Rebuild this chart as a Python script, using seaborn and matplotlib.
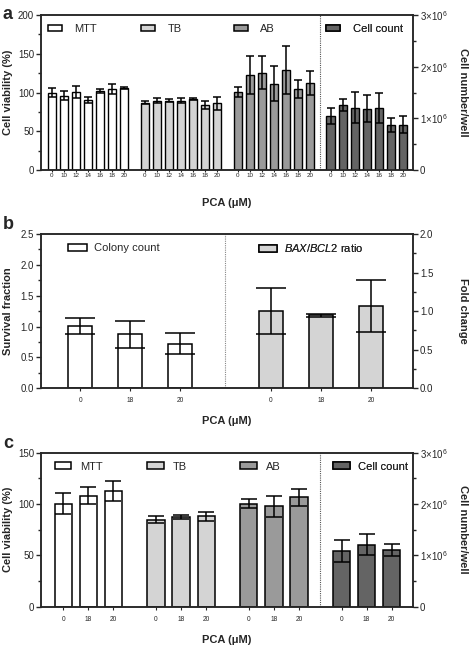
import numpy as np
import pandas as pd
import matplotlib
matplotlib.use("Agg")
import matplotlib.pyplot as plt
import matplotlib.transforms as mtransforms
from matplotlib.patches import Patch
from matplotlib.ticker import MultipleLocator, FuncFormatter
import seaborn as sns

# ---------------- data ----------------
conc_a = ["0", "10", "12", "14", "16", "18", "20"]
mtt_a = [100, 96, 101, 90, 102, 105, 105.5]
mtt_a_err = [5.5, 5.5, 8, 4, 2.5, 6.5, 1.5]
tb_a = [87, 89.5, 89.5, 89.5, 91.5, 84, 86]
tb_a_err = [1.8, 3, 2.2, 3.4, 1.3, 5.6, 8]
ab_a = [100.5, 122, 125.5, 111.5, 129, 104.5, 112.5]
ab_a_err = [6.2, 24.5, 21, 22.6, 31, 11.4, 15.7]
cells_a = [1.05e6, 1.26e6, 1.21e6, 1.19e6, 1.20e6, 0.87e6, 0.88e6]
cells_a_err = [0.16e6, 0.12e6, 0.30e6, 0.27e6, 0.29e6, 0.14e6, 0.17e6]

conc_b = ["0", "18", "20"]
colony_b = [1.01, 0.875, 0.72]
colony_b_err = [0.13, 0.22, 0.17]
bax_b = [1.0, 0.945, 1.065]
bax_b_err = [0.30, 0.02, 0.34]

conc_c = ["0", "18", "20"]
mtt_c = [100.3, 108, 112.7]
mtt_c_err = [10.2, 8.3, 9.9]
tb_c = [84.7, 87.7, 88]
tb_c_err = [3.4, 2, 4.2]
ab_c = [100.3, 97.7, 106.5]
ab_c_err = [4.4, 10, 8.3]
cells_c = [1.08e6, 1.21e6, 1.11e6]
cells_c_err = [0.21e6, 0.20e6, 0.12e6]

labels_4 = ["MTT", "TB", "AB", "Cell count"]
labels_b = ["Colony count", r"$\mathit{BAX/BCL2}$ ratio"]
colors = {"MTT": "#ffffff", "TB": "#d4d4d4", "AB": "#9a9a9a", "Cell count": "#646464",
          "Colony count": "#ffffff", r"$\mathit{BAX/BCL2}$ ratio": "#d4d4d4"}

# ---------------- style ----------------
sns.set_style("ticks")
plt.rcParams["font.family"] = ["Liberation Sans", "DejaVu Sans"]
plt.rcParams["mathtext.fontset"] = "custom"
plt.rcParams["mathtext.rm"] = "Liberation Sans"
plt.rcParams["mathtext.it"] = "Liberation Sans:italic"
plt.rcParams["mathtext.bf"] = "Liberation Sans:bold"
plt.rcParams["axes.linewidth"] = 1.1

fig = plt.figure(figsize=(4.7, 6.45), dpi=100)


def sci_fmt(v, p):
    if abs(v) < 1:
        return "0"
    return "%d×10$^6$" % round(v / 1e6)


def build(series, conc, gap):
    n = len(conc)
    rows = []
    for g, (lab, vals, errs) in enumerate(series):
        for i, (v, e) in enumerate(zip(vals, errs)):
            rows.append({"pos": g * (n + gap) + i, "value": v, "err": e,
                         "group": lab, "conc": conc[i]})
    return pd.DataFrame(rows)


def draw_bars(ax, df, width, cap, lw):
    sns.barplot(data=df, x="pos", y="value", hue="group", palette=colors,
                native_scale=True, dodge=False, width=width, edgecolor="black",
                linewidth=lw, legend=False, ax=ax, zorder=2)
    ax.errorbar(df["pos"], df["value"], yerr=df["err"], fmt="none", ecolor="black",
                elinewidth=1.1, capsize=cap, capthick=1.1, zorder=3)


def add_legend(ax, lab, xdata, yfrac, hl, hh, pad, fs):
    trans = mtransforms.blended_transform_factory(ax.transData, ax.transAxes)
    h = [Patch(facecolor=colors[lab], edgecolor="black", linewidth=1.1)]
    leg = ax.legend(h, [lab], loc="center left", bbox_to_anchor=(xdata, yfrac),
                    bbox_transform=trans, frameon=False, borderpad=0, borderaxespad=0,
                    handlelength=hl, handleheight=hh, handletextpad=pad, fontsize=fs)
    ax.add_artist(leg)


def style_axes(ax, ax2, xlabel_y, xtick_fs, xtick_len, xtick_pad):
    ax.tick_params(axis="y", which="major", length=3.5, width=1, labelsize=7, pad=1.5)
    ax.tick_params(axis="y", which="minor", length=2, width=1)
    ax2.tick_params(axis="y", which="major", length=3.5, width=1, labelsize=7, pad=1.5)
    ax2.tick_params(axis="y", which="minor", length=2, width=1)
    ax.tick_params(axis="x", which="major", length=xtick_len, width=0.8,
                   labelsize=xtick_fs, pad=xtick_pad)
    ax.tick_params(axis="x", which="minor", length=0)
    for a in (ax, ax2):
        for s in a.spines.values():
            s.set_visible(True)
            s.set_linewidth(1.1)
    ax.set_xlabel("PCA (μM)", fontsize=8, fontweight="bold", va="center")
    ax.xaxis.set_label_coords(0.5, xlabel_y)


def ylabels(ax, ax2, left, right):
    ax.set_ylabel(left, fontsize=8, fontweight="bold", rotation=90, va="center",
                  ha="center", rotation_mode="anchor")
    ax.yaxis.set_label_coords(-0.089, 0.5)
    ax2.set_ylabel(right, fontsize=8, fontweight="bold", rotation=270, va="center",
                   ha="center", rotation_mode="anchor")
    ax2.yaxis.set_label_coords(1.134, 0.5)


# ================= panel a =================
W = 0.7915
axa = fig.add_axes([0.0872, 0.7364, W, 0.2403])
axa2 = axa.twinx()
dfa = build([("MTT", mtt_a, mtt_a_err), ("TB", tb_a, tb_a_err), ("AB", ab_a, ab_a_err),
             ("Cell count", cells_a, cells_a_err)], conc_a, 0.7)
draw_bars(axa, dfa[dfa.group != "Cell count"], 0.67, 2.6, 1.0)
draw_bars(axa2, dfa[dfa.group == "Cell count"], 0.67, 2.6, 1.0)
axa.set_ylim(0, 200)
axa.yaxis.set_major_locator(MultipleLocator(50))
axa.yaxis.set_minor_locator(MultipleLocator(25))
axa2.set_ylim(0, 3e6)
axa2.yaxis.set_major_locator(MultipleLocator(1e6))
axa2.yaxis.set_minor_locator(MultipleLocator(0.5e6))
axa2.yaxis.set_major_formatter(FuncFormatter(sci_fmt))
axa.set_xlim(dfa.pos.min() - 0.88, dfa.pos.max() + 0.83)
axa.set_xticks(dfa.pos)
axa.set_xticklabels(dfa.conc)
g2_last = dfa[dfa.group == "AB"].pos.max()
g3_first = dfa[dfa.group == "Cell count"].pos.min()
axa.axvline((g2_last + g3_first) / 2, color="#555555", ls=(0, (1, 1)), lw=0.8, zorder=1)
style_axes(axa, axa2, -0.213, 4.5, 1.5, 1.0)
ylabels(axa, axa2, "Cell viability (%)", "Cell number/well")
for lab in labels_4:
    x0 = dfa[dfa.group == lab].pos.min() - 0.67 / 2
    add_legend(axa2, lab, x0, 0.91, 1.26, 0.55, 1.15, 8)

# ================= panel b =================
axb = fig.add_axes([0.0872, 0.398, W, 0.2392])
axb2 = axb.twinx()
dfb = build([("Colony count", colony_b, colony_b_err),
             (labels_b[1], bax_b, bax_b_err)], conc_b, 0.8)
draw_bars(axb, dfb[dfb.group == "Colony count"], 0.48, 11, 1.1)
draw_bars(axb2, dfb[dfb.group != "Colony count"], 0.48, 11, 1.1)
axb.set_ylim(0, 2.5)
axb.yaxis.set_major_locator(MultipleLocator(0.5))
axb.yaxis.set_minor_locator(MultipleLocator(0.25))
axb.yaxis.set_major_formatter(FuncFormatter(lambda v, p: "%.1f" % v))
axb2.set_ylim(0, 2.0)
axb2.yaxis.set_major_locator(MultipleLocator(0.5))
axb2.yaxis.set_minor_locator(MultipleLocator(0.25))
axb2.yaxis.set_major_formatter(FuncFormatter(lambda v, p: "%.1f" % v))
axb.set_xlim(dfb.pos.min() - 0.78, dfb.pos.max() + 0.84)
axb.set_xticks(dfb.pos)
axb.set_xticklabels(dfb.conc)
b_last = dfb[dfb.group == "Colony count"].pos.max()
b_first = dfb[dfb.group != "Colony count"].pos.min()
axb.axvline((b_last + b_first) / 2, color="#888888", ls=(0, (1, 1)), lw=0.8, zorder=1)
style_axes(axb, axb2, -0.21, 4.8, 2.5, 4.0)
ylabels(axb, axb2, "Survival fraction", "Fold change")
for lab, hl, pad in [("Colony count", 1.7, 0.63), (labels_b[1], 1.7, 0.63)]:
    x0 = dfb[dfb.group == lab].pos.min() - 0.48 / 2
    add_legend(axb2, lab, x0, 0.907, hl, 0.55, pad, 8)

# ================= panel c =================
axc = fig.add_axes([0.0872, 0.0594, W, 0.2388])
axc2 = axc.twinx()
dfc = build([("MTT", mtt_c, mtt_c_err), ("TB", tb_c, tb_c_err), ("AB", ab_c, ab_c_err),
             ("Cell count", cells_c, cells_c_err)], conc_c, 0.7)
draw_bars(axc, dfc[dfc.group != "Cell count"], 0.69, 5.5, 1.1)
draw_bars(axc2, dfc[dfc.group == "Cell count"], 0.69, 5.5, 1.1)
axc.set_ylim(0, 150)
axc.yaxis.set_major_locator(MultipleLocator(50))
axc.yaxis.set_minor_locator(MultipleLocator(25))
axc2.set_ylim(0, 3e6)
axc2.yaxis.set_major_locator(MultipleLocator(1e6))
axc2.yaxis.set_minor_locator(MultipleLocator(0.5e6))
axc2.yaxis.set_major_formatter(FuncFormatter(sci_fmt))
axc.set_xlim(dfc.pos.min() - 0.89, dfc.pos.max() + 0.85)
axc.set_xticks(dfc.pos)
axc.set_xticklabels(dfc.conc)
c_last = dfc[dfc.group == "AB"].pos.max()
c_first = dfc[dfc.group == "Cell count"].pos.min()
axc.axvline((c_last + c_first) / 2, color="#555555", ls=(0, (1, 1)), lw=0.8, zorder=1)
style_axes(axc, axc2, -0.217, 4.8, 2.5, 4.0)
ylabels(axc, axc2, "Cell viability (%)", "Cell number/well")
for lab in labels_4:
    x0 = dfc[dfc.group == lab].pos.min() - 0.69 / 2
    add_legend(axc2, lab, x0, 0.909, 1.5, 0.55, 0.8, 8)

# panel letters
for y, letter in [(0.99, "a"), (0.665, "b"), (0.325, "c")]:
    fig.text(0.006, y, letter, fontsize=13, fontweight="bold", va="top", ha="left")

fig.savefig("out.png", dpi=100)
